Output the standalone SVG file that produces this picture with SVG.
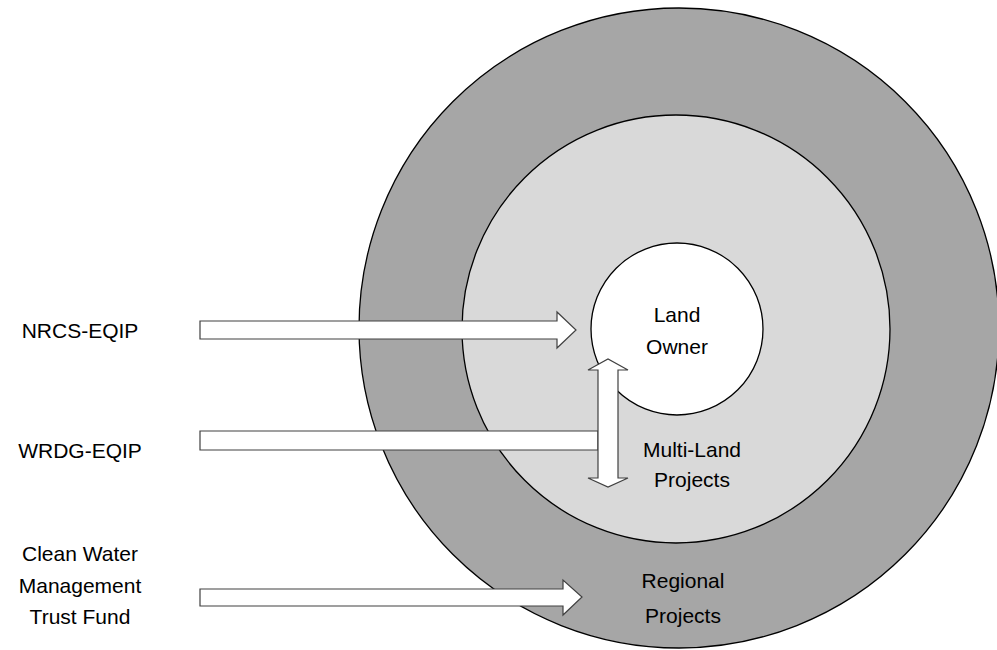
<svg xmlns="http://www.w3.org/2000/svg" width="997" height="650" viewBox="0 0 997 650">
<style>
.ring{stroke:#000;stroke-width:1.3}
.arrow{fill:#fff;stroke:#404040;stroke-width:1.2;stroke-linejoin:miter}
text{font-family:"Liberation Sans",Arial,sans-serif;font-size:21px;fill:#000;text-anchor:middle}
</style>
<rect width="997" height="650" fill="#fff"/>
<g id="regional">
<circle class="ring" cx="679" cy="328" r="320" fill="#a6a6a6"/>
<text x="683" y="588">Regional</text>
<text x="683" y="623">Projects</text>
</g>
<g id="multi-land">
<circle class="ring" cx="676" cy="329" r="214" fill="#d9d9d9"/>
<text x="692" y="457">Multi-Land</text>
<text x="692" y="487">Projects</text>
</g>
<g id="land-owner">
<circle class="ring" cx="677" cy="329" r="86" fill="#fff"/>
<text x="677" y="322">Land</text>
<text x="677" y="354">Owner</text>
</g>
<g id="nrcs">
<text x="80" y="338">NRCS-EQIP</text>
</g>
<g id="wrdg">
<text x="80" y="458">WRDG-EQIP</text>
</g>
<g id="cwmtf">
<text x="80" y="561">Clean Water</text>
<text x="80" y="593">Management</text>
<text x="80" y="624">Trust Fund</text>
</g>
<g id="connectors">
<polygon class="arrow" points="200,321 557,321 557,312 576,330 557,348 557,339 200,339"/>
<polygon class="arrow" points="200,431 598,431 598,450 200,450"/>
<polygon class="arrow" points="598,370 588,370 608,359 628,370 618,370 618,478 628,478 608,487 588,478 598,478"/>
<polygon class="arrow" points="200,589 563,589 563,580 582,597 563,615 563,606 200,606"/>
</g>
</svg>
